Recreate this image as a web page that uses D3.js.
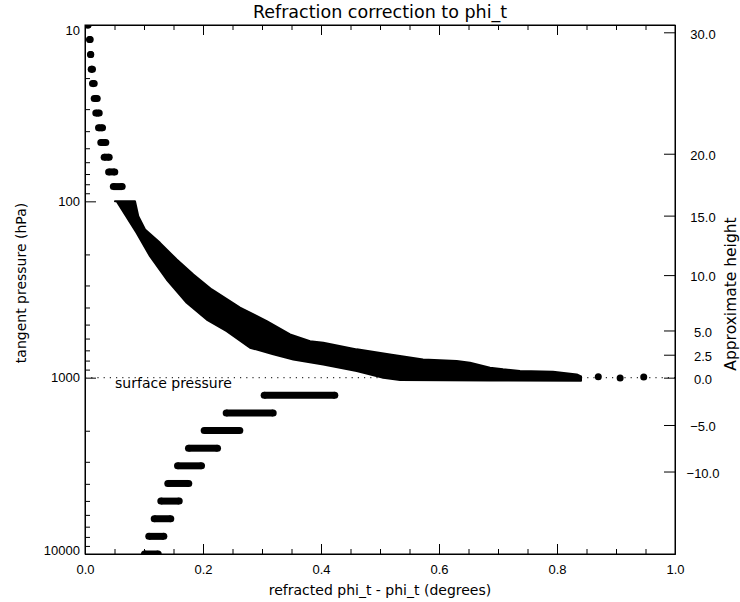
<!DOCTYPE html>
<html>
  <head>
    <meta charset="utf-8">
    <title>Refraction correction to phi_t</title>
    <script src="https://d3js.org/d3.v7.min.js"></script>
    <style>
      body { margin: 0; background: #fff; }
      svg { font-family: "DejaVu Sans", sans-serif; }
      .axis path, .axis line { stroke: #000; stroke-width: 1; }
      .axis text { font-size: 13px; fill: #000; }
      .title { font-size: 17.5px; }
      .label { font-size: 14px; }
    </style>
  </head>
  <body>
    <svg id="chart" width="740" height="602"></svg>
    <script>
      // rows of points on fixed pressure levels: [pressure, first x, last x]
      upperRows = [
        [10.0, 0.005, 0.005],
        [12.1, 0.0076, 0.0088],
        [14.7, 0.0093, 0.0098],
        [17.8, 0.0105, 0.0127],
        [21.5, 0.0127, 0.0156],
        [26.1, 0.0156, 0.0207],
        [31.6, 0.0183, 0.0241],
        [38.3, 0.0229, 0.0297],
        [46.4, 0.0268, 0.0353],
        [56.2, 0.0325, 0.041],
        [68.1, 0.040, 0.0505],
        [82.5, 0.048, 0.063]
      ];
      lowerRows = [
        [1259, 0.3037, 0.4234],
        [1585, 0.2393, 0.3190],
        [1995, 0.2020, 0.2624],
        [2512, 0.1754, 0.2246],
        [3162, 0.1568, 0.1975],
        [3981, 0.1403, 0.1759],
        [5012, 0.1285, 0.1597],
        [6310, 0.1173, 0.1454],
        [7943, 0.1081, 0.1336],
        [10000, 0.1008, 0.1241]
      ];
      // outline of the dense cloud between 100 and 1000 hPa
      bandUpper = [
        [0.0508, 100], [0.0847, 100], [0.0903, 121.6], [0.1017, 144.6],
        [0.1271, 172], [0.1554, 213.8], [0.1836, 260], [0.2147, 316],
        [0.2627, 401], [0.308, 478], [0.3475, 569], [0.3814, 621],
        [0.4039, 634], [0.4605, 691], [0.5169, 738], [0.5729, 788],
        [0.630, 805], [0.6525, 822], [0.6864, 878], [0.7085, 897],
        [0.7373, 917], [0.7932, 925], [0.8334, 958], [0.8407, 983]
      ];
      bandLower = [
        [0.8407, 1042], [0.6864, 1036], [0.5339, 1032], [0.5056, 1000],
        [0.4605, 917], [0.4039, 841], [0.3531, 788], [0.3192, 738],
        [0.2797, 676], [0.2402, 545], [0.2063, 468], [0.1724, 376],
        [0.1385, 277.6], [0.1102, 204.8], [0.0876, 151], [0.0537, 100]
      ];
      // single points near the surface
      tailPoints = [[0.870, 987], [0.907, 1005], [0.947, 992]];
      // axis ticks
      xMajor = [0, 0.2, 0.4, 0.6, 0.8, 1.0];
      xMinor = [0.05, 0.1, 0.15, 0.25, 0.3, 0.35, 0.45, 0.5, 0.55, 0.65, 0.7, 0.75, 0.85, 0.9, 0.95];
      pMajor = [10, 100, 1000, 10000];
      heightLabels = ["30.0", "20.0", "15.0", "10.0", "5.0", "2.5", "0.0", "\u22125.0", "\u221210.0"];
      heightPressures = [11.0, 53.7, 120.5, 262, 540, 741, 1000, 1855, 3406];
      surfacePressure = 1000;

      plotLeft = 85; plotRight = 675; plotTop = 25; plotBottom = 554;
      svg = d3.select("#chart");

      x = d3.scaleLinear().domain([0, 1]).range([plotLeft, plotRight]);
      y = d3.scaleLog().domain([10, 10000]).range([plotTop, plotBottom]);

      svg.append("clipPath").attr("id", "plotClip")
        .append("rect")
          .attr("x", plotLeft).attr("y", plotTop)
          .attr("width", plotRight - plotLeft).attr("height", plotBottom - plotTop);

      plot = svg.append("g").attr("clip-path", "url(#plotClip)");

      // surface line
      plot.append("line")
        .attr("x1", x(0)).attr("x2", x(1))
        .attr("y1", y(surfacePressure)).attr("y2", y(surfacePressure))
        .attr("stroke", "#333").attr("stroke-width", 1.2)
        .attr("stroke-dasharray", "1.2,5");

      svg.append("text")
        .attr("class", "label")
        .attr("x", x(0.051)).attr("y", y(surfacePressure) + 10)
        .text("surface pressure");

      // dense cloud
      outline = d3.line().x(function(d) { return x(d[0]); }).y(function(d) { return y(d[1]); });
      plot.append("path")
        .attr("d", outline(bandUpper.concat(bandLower)) + "Z")
        .attr("fill", "#000")
        .attr("stroke", "#000")
        .attr("stroke-width", 2)
        .attr("stroke-linejoin", "round");

      // level rows
      rows = upperRows.concat(lowerRows);
      r = 3.5;
      rowG = plot.selectAll(".row").data(rows).enter().append("g").attr("class", "row");
      rowG.append("line")
        .attr("x1", function(d) { return x(d[1]); })
        .attr("x2", function(d) { return x(d[2]); })
        .attr("y1", function(d) { return y(d[0]); })
        .attr("y2", function(d) { return y(d[0]); })
        .attr("stroke", "#000").attr("stroke-width", 2 * r);
      rowG.append("circle")
        .attr("cx", function(d) { return x(d[1]); })
        .attr("cy", function(d) { return y(d[0]); })
        .attr("r", r);
      rowG.append("circle")
        .attr("cx", function(d) { return x(d[2]); })
        .attr("cy", function(d) { return y(d[0]); })
        .attr("r", r);

      plot.selectAll(".tail").data(tailPoints).enter().append("circle")
        .attr("class", "tail")
        .attr("cx", function(d) { return x(d[0]); })
        .attr("cy", function(d) { return y(d[1]); })
        .attr("r", r);

      // axes
      fmt = d3.format(".1f");
      svg.append("g").attr("class", "axis")
        .attr("transform", "translate(0," + plotBottom + ")")
        .call(d3.axisBottom(x).tickValues(xMajor).tickSize(-10).tickSizeOuter(0).tickPadding(11).tickFormat(fmt));
      svg.append("g").attr("class", "axis")
        .attr("transform", "translate(0," + plotBottom + ")")
        .call(d3.axisBottom(x).tickValues(xMinor).tickSize(-5).tickSizeOuter(0).tickFormat(""));
      svg.append("g").attr("class", "axis")
        .attr("transform", "translate(0," + plotTop + ")")
        .call(d3.axisTop(x).tickValues(xMajor).tickSize(-10).tickSizeOuter(0).tickFormat(""));
      svg.append("g").attr("class", "axis")
        .attr("transform", "translate(0," + plotTop + ")")
        .call(d3.axisTop(x).tickValues(xMinor).tickSize(-5).tickSizeOuter(0).tickFormat(""));

      pMinor = y.ticks().filter(function(p) { return pMajor.indexOf(p) < 0; });
      leftAxis = svg.append("g").attr("class", "axis")
        .attr("transform", "translate(" + plotLeft + ",0)")
        .call(d3.axisLeft(y).tickValues(pMajor).tickSize(-11).tickSizeOuter(0).tickPadding(5)
          .tickFormat(d3.format("d")));
      leftAxis.selectAll("text")
        .attr("dy", function(d) { return d === 10 ? "0.7em" : d === 10000 ? "0.05em" : "0.32em"; });
      svg.append("g").attr("class", "axis")
        .attr("transform", "translate(" + plotLeft + ",0)")
        .call(d3.axisLeft(y).tickValues(pMinor).tickSize(-5).tickSizeOuter(0).tickFormat(""));

      rightAxis = svg.append("g").attr("class", "axis")
        .attr("transform", "translate(" + plotRight + ",0)")
        .call(d3.axisRight(y).tickValues(heightPressures).tickSize(-11).tickSizeOuter(0).tickPadding(28)
          .tickFormat(function(d, i) { return heightLabels[i]; }));
      rightAxis.selectAll("text").attr("text-anchor", "middle").attr("dy", "0.45em");

      // frame
      svg.append("rect")
        .attr("x", plotLeft).attr("y", plotTop)
        .attr("width", plotRight - plotLeft).attr("height", plotBottom - plotTop)
        .attr("fill", "none").attr("stroke", "#000").attr("stroke-width", 1);

      // titles
      svg.append("text").attr("class", "title")
        .attr("x", (plotLeft + plotRight) / 2).attr("y", 18)
        .attr("text-anchor", "middle")
        .text("Refraction correction to phi_t");
      svg.append("text").attr("class", "label")
        .attr("x", (plotLeft + plotRight) / 2).attr("y", 595)
        .attr("text-anchor", "middle")
        .text("refracted phi_t - phi_t (degrees)");
      svg.append("text").attr("class", "label")
        .attr("transform", "translate(26," + 283 + ") rotate(-90)")
        .attr("text-anchor", "middle")
        .text("tangent pressure (hPa)");
      svg.append("text").attr("class", "label")
        .style("font-size", "15.5px")
        .attr("transform", "translate(736," + 294 + ") rotate(-90)")
        .attr("text-anchor", "middle")
        .text("Approximate height");
    </script>
  </body>
</html>
